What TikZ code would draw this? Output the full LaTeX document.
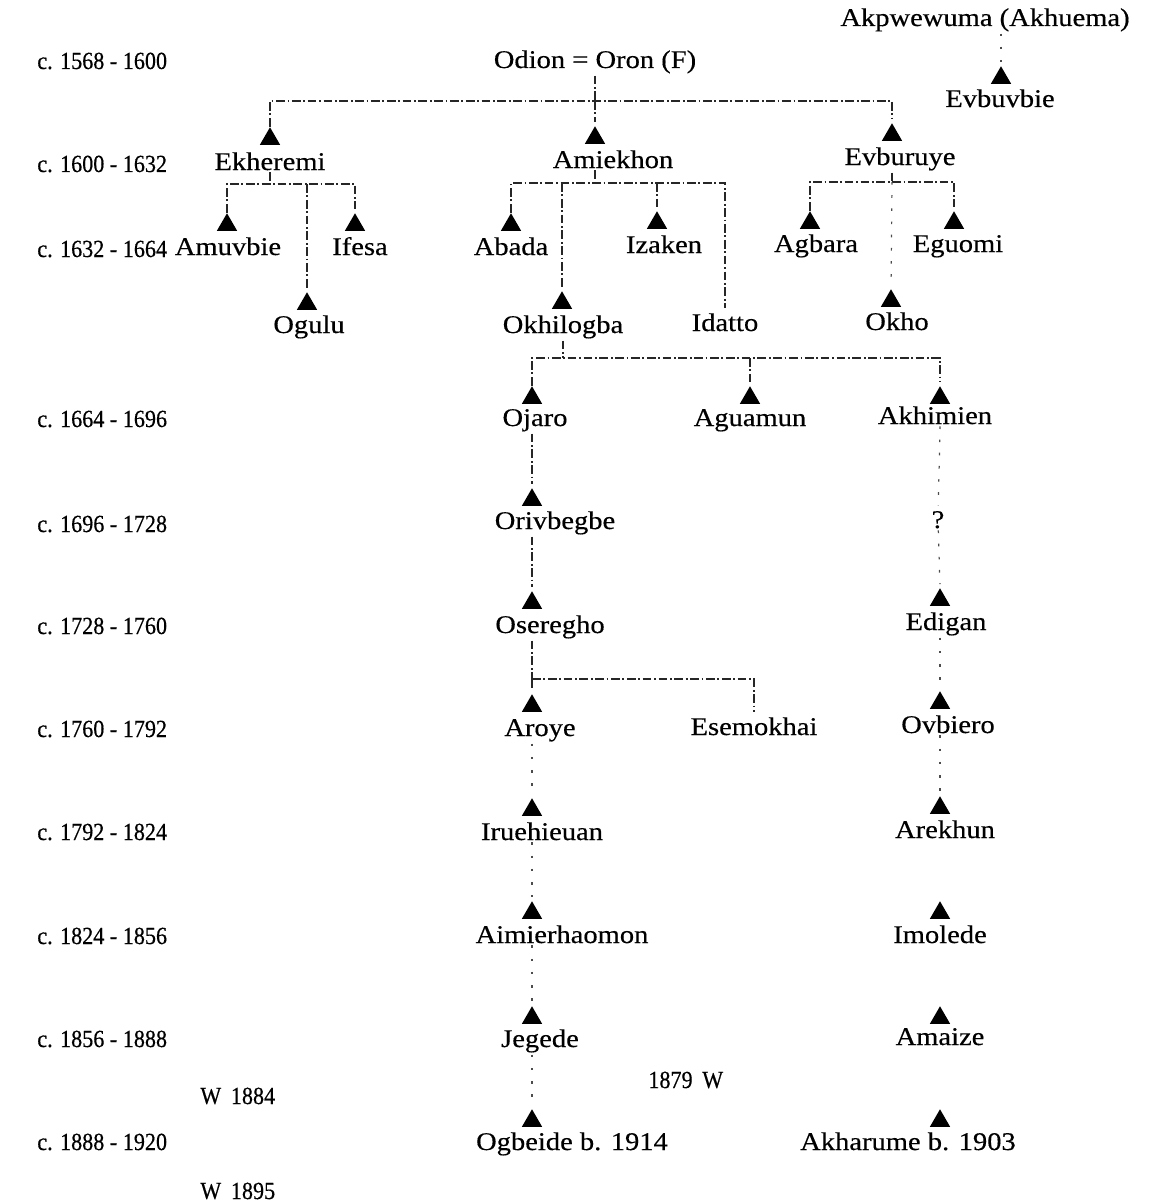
\documentclass[tikz,border=0pt]{standalone}
\usepackage{fontspec}
\setmainfont[FakeStretch=1.12,FakeBold=0.4]{Liberation Serif}
\newfontfamily\datefont[FakeStretch=0.9,FakeBold=0.4]{Liberation Serif}
\usetikzlibrary{shapes.geometric,calc}

\begin{document}
\begin{tikzpicture}[
 x=0.02cm,y=-0.02cm,
 person/.style={font=\fontsize{14.5}{16}\selectfont,anchor=base,inner sep=1pt},
 era/.style={font=\datefont\fontsize{14}{16}\selectfont,anchor=base west,inner sep=0pt},
 tri/.style={regular polygon,regular polygon sides=3,fill=black,inner sep=0pt,minimum size=0.47cm},
 kin/.style={draw=black!85,line width=0.7pt,dash pattern=on 5pt off 1.5pt on 1pt off 1.5pt,shorten >=2pt},
 faint/.style={kin,draw=black!70,dash pattern=on 1.5pt off 6pt}
]
\useasboundingbox (0,0) rectangle (1156,1203);

% periods
\node[era] (d1) at (37,69) {c. 1568 - 1600};
\node[era] (d2) at (37,172) {c. 1600 - 1632};
\node[era] (d3) at (37,257) {c. 1632 - 1664};
\node[era] (d4) at (37,427) {c. 1664 - 1696};
\node[era] (d5) at (37,532) {c. 1696 - 1728};
\node[era] (d6) at (37,634) {c. 1728 - 1760};
\node[era] (d7) at (37,737) {c. 1760 - 1792};
\node[era] (d8) at (37,840) {c. 1792 - 1824};
\node[era] (d9) at (37,944) {c. 1824 - 1856};
\node[era] (d10) at (37,1047) {c. 1856 - 1888};
\node[era] (d11) at (37,1150) {c. 1888 - 1920};

% founders
\node[person] (odion) at (595,68) {Odion = Oron (F)};
\node[person] (akpwewuma) at (985,26) {Akpwewuma (Akhuema)};
\node[tri] (t-evbuvbie) at (1001,78) {};
\node[person] (evbuvbie) at (1000,107) {Evbuvbie};

% sons
\node[tri] (t-ekheremi) at (270,139) {};
\node[person] (ekheremi) at (270,170) {Ekheremi};
\node[tri] (t-amiekhon) at (595,138) {};
\node[person] (amiekhon) at (613,168) {Amiekhon};
\node[tri] (t-evburuye) at (892,135) {};
\node[person] (evburuye) at (900,165) {Evburuye};

% grandsons
\node[tri] (t-amuvbie) at (227,225) {};
\node[person] (amuvbie) at (228,255) {Amuvbie};
\node[tri] (t-ifesa) at (355,225) {};
\node[person] (ifesa) at (360,255) {Ifesa};
\node[tri] (t-ogulu) at (307,304) {};
\node[person] (ogulu) at (309,333) {Ogulu};
\node[tri] (t-abada) at (511,225) {};
\node[person] (abada) at (511,255) {Abada};
\node[tri] (t-izaken) at (657,223) {};
\node[person] (izaken) at (664,253) {Izaken};
\node[tri] (t-okhilogba) at (562,303) {};
\node[person] (okhilogba) at (563,333) {Okhilogba};
\node[person] (idatto) at (725,331) {Idatto};
\node[tri] (t-agbara) at (810,223) {};
\node[person] (agbara) at (816,252) {Agbara};
\node[tri] (t-eguomi) at (954,223) {};
\node[person] (eguomi) at (958,252) {Eguomi};
\node[tri] (t-okho) at (891,301) {};
\node[person] (okho) at (897,330) {Okho};

% Okhilogba line
\node[tri] (t-ojaro) at (532,398) {};
\node[person] (ojaro) at (535,426) {Ojaro};
\node[tri] (t-aguamun) at (750,398) {};
\node[person] (aguamun) at (750,426) {Aguamun};
\node[tri] (t-akhimien) at (940,398) {};
\node[person] (akhimien) at (935,424) {Akhimien};
\node[tri] (t-orivbegbe) at (532,500) {};
\node[person] (orivbegbe) at (555,529) {Orivbegbe};
\node[person] (unknown) at (938,528) {?};
\node[tri] (t-oseregho) at (532,603) {};
\node[person] (oseregho) at (550,633) {Oseregho};
\node[tri] (t-edigan) at (940,600) {};
\node[person] (edigan) at (946,630) {Edigan};
\node[tri] (t-aroye) at (532,706) {};
\node[person] (aroye) at (540,736) {Aroye};
\node[person] (esemokhai) at (754,735) {Esemokhai};
\node[tri] (t-ovbiero) at (940,703) {};
\node[person] (ovbiero) at (948,733) {Ovbiero};
\node[tri] (t-iruehieuan) at (532,810) {};
\node[person] (iruehieuan) at (542,840) {Iruehieuan};
\node[tri] (t-arekhun) at (940,808) {};
\node[person] (arekhun) at (945,838) {Arekhun};
\node[tri] (t-aimierhaomon) at (532,913) {};
\node[person] (aimierhaomon) at (562,943) {Aimierhaomon};
\node[tri] (t-imolede) at (940,913) {};
\node[person] (imolede) at (940,943) {Imolede};
\node[tri] (t-jegede) at (532,1018) {};
\node[person] (jegede) at (540,1047) {Jegede};
\node[tri] (t-amaize) at (940,1018) {};
\node[person] (amaize) at (940,1045) {Amaize};
\node[tri] (t-ogbeide) at (532,1121) {};
\node[person] (ogbeide) at (572,1150) {Ogbeide b. 1914};
\node[tri] (t-akharume) at (940,1121) {};
\node[person] (akharume) at (908,1150) {Akharume b. 1903};

% notes
\node[era] (w1884) at (200,1104) {W\,\ 1884};
\node[era] (w1879) at (648,1088) {1879\,\ W};
\node[era] (w1895) at (200,1199) {W\,\ 1895};

% junctions
\coordinate (j-odion) at (595,101);
\coordinate (j-ekh) at (270,184);
\coordinate (j-ami) at (595,183);
\coordinate (j-evb) at (892,182);
\coordinate (j-okh) at (563,358);
\coordinate (j-ose) at (532,679);

% descent lines
\draw[faint] (t-evbuvbie |- akpwewuma.south) -- (t-evbuvbie.north);
\draw[kin,shorten >=0pt] (odion) -- (j-odion);
\draw[kin] (j-odion) -- (t-amiekhon.north);
\draw[kin] (t-ekheremi.north) |- (j-odion) -| (t-evburuye.north);
\draw[kin,shorten >=0pt] (ekheremi) -- (j-ekh);
\draw[kin] (t-amuvbie.north) |- (j-ekh) -| (t-ifesa.north);
\draw[kin] (t-ogulu.north |- j-ekh) -- (t-ogulu.north);
\draw[kin,shorten >=0pt] (t-amiekhon |- amiekhon.south) -- (j-ami);
\draw[kin] (t-abada.north) |- (j-ami) -| (idatto.north);
\draw[kin] (t-okhilogba.north |- j-ami) -- (t-okhilogba.north);
\draw[kin] (t-izaken.north |- j-ami) -- (t-izaken.north);
\draw[kin,shorten >=0pt] (t-evburuye |- evburuye.south) -- (j-evb);
\draw[kin] (t-agbara.north) |- (j-evb) -| (t-eguomi.north);
\draw[faint] (j-evb) -- (t-okho.north);
\draw[kin,shorten >=0pt] (okhilogba) -- (j-okh);
\draw[kin] (t-ojaro.north) |- (j-okh) -| (t-akhimien.north);
\draw[kin] (t-aguamun.north |- j-okh) -- (t-aguamun.north);
\draw[kin] (t-ojaro |- ojaro.south) -- (t-orivbegbe.north);
\draw[kin] (t-orivbegbe |- orivbegbe.south) -- (t-oseregho.north);
\draw[kin,shorten >=0pt] (t-oseregho |- oseregho.south) -- (j-ose);
\draw[kin] (j-ose) -- (t-aroye.north);
\draw[kin] (j-ose) -| (esemokhai.north);
\draw[faint] (t-aroye |- aroye.south) -- (t-iruehieuan.north);
\draw[faint] (t-iruehieuan |- iruehieuan.south) -- (t-aimierhaomon.north);
\draw[faint] (t-aimierhaomon |- aimierhaomon.south) -- (t-jegede.north);
\draw[faint] (t-jegede |- jegede.south) -- (t-ogbeide.north);
\draw[faint] (t-akhimien |- akhimien.south) -- (unknown);
\draw[faint] (unknown) -- (t-edigan.north);
\draw[faint] (t-edigan |- edigan.south) -- (t-ovbiero.north);
\draw[faint] (t-ovbiero |- ovbiero.south) -- (t-arekhun.north);
\end{tikzpicture}
\end{document}
